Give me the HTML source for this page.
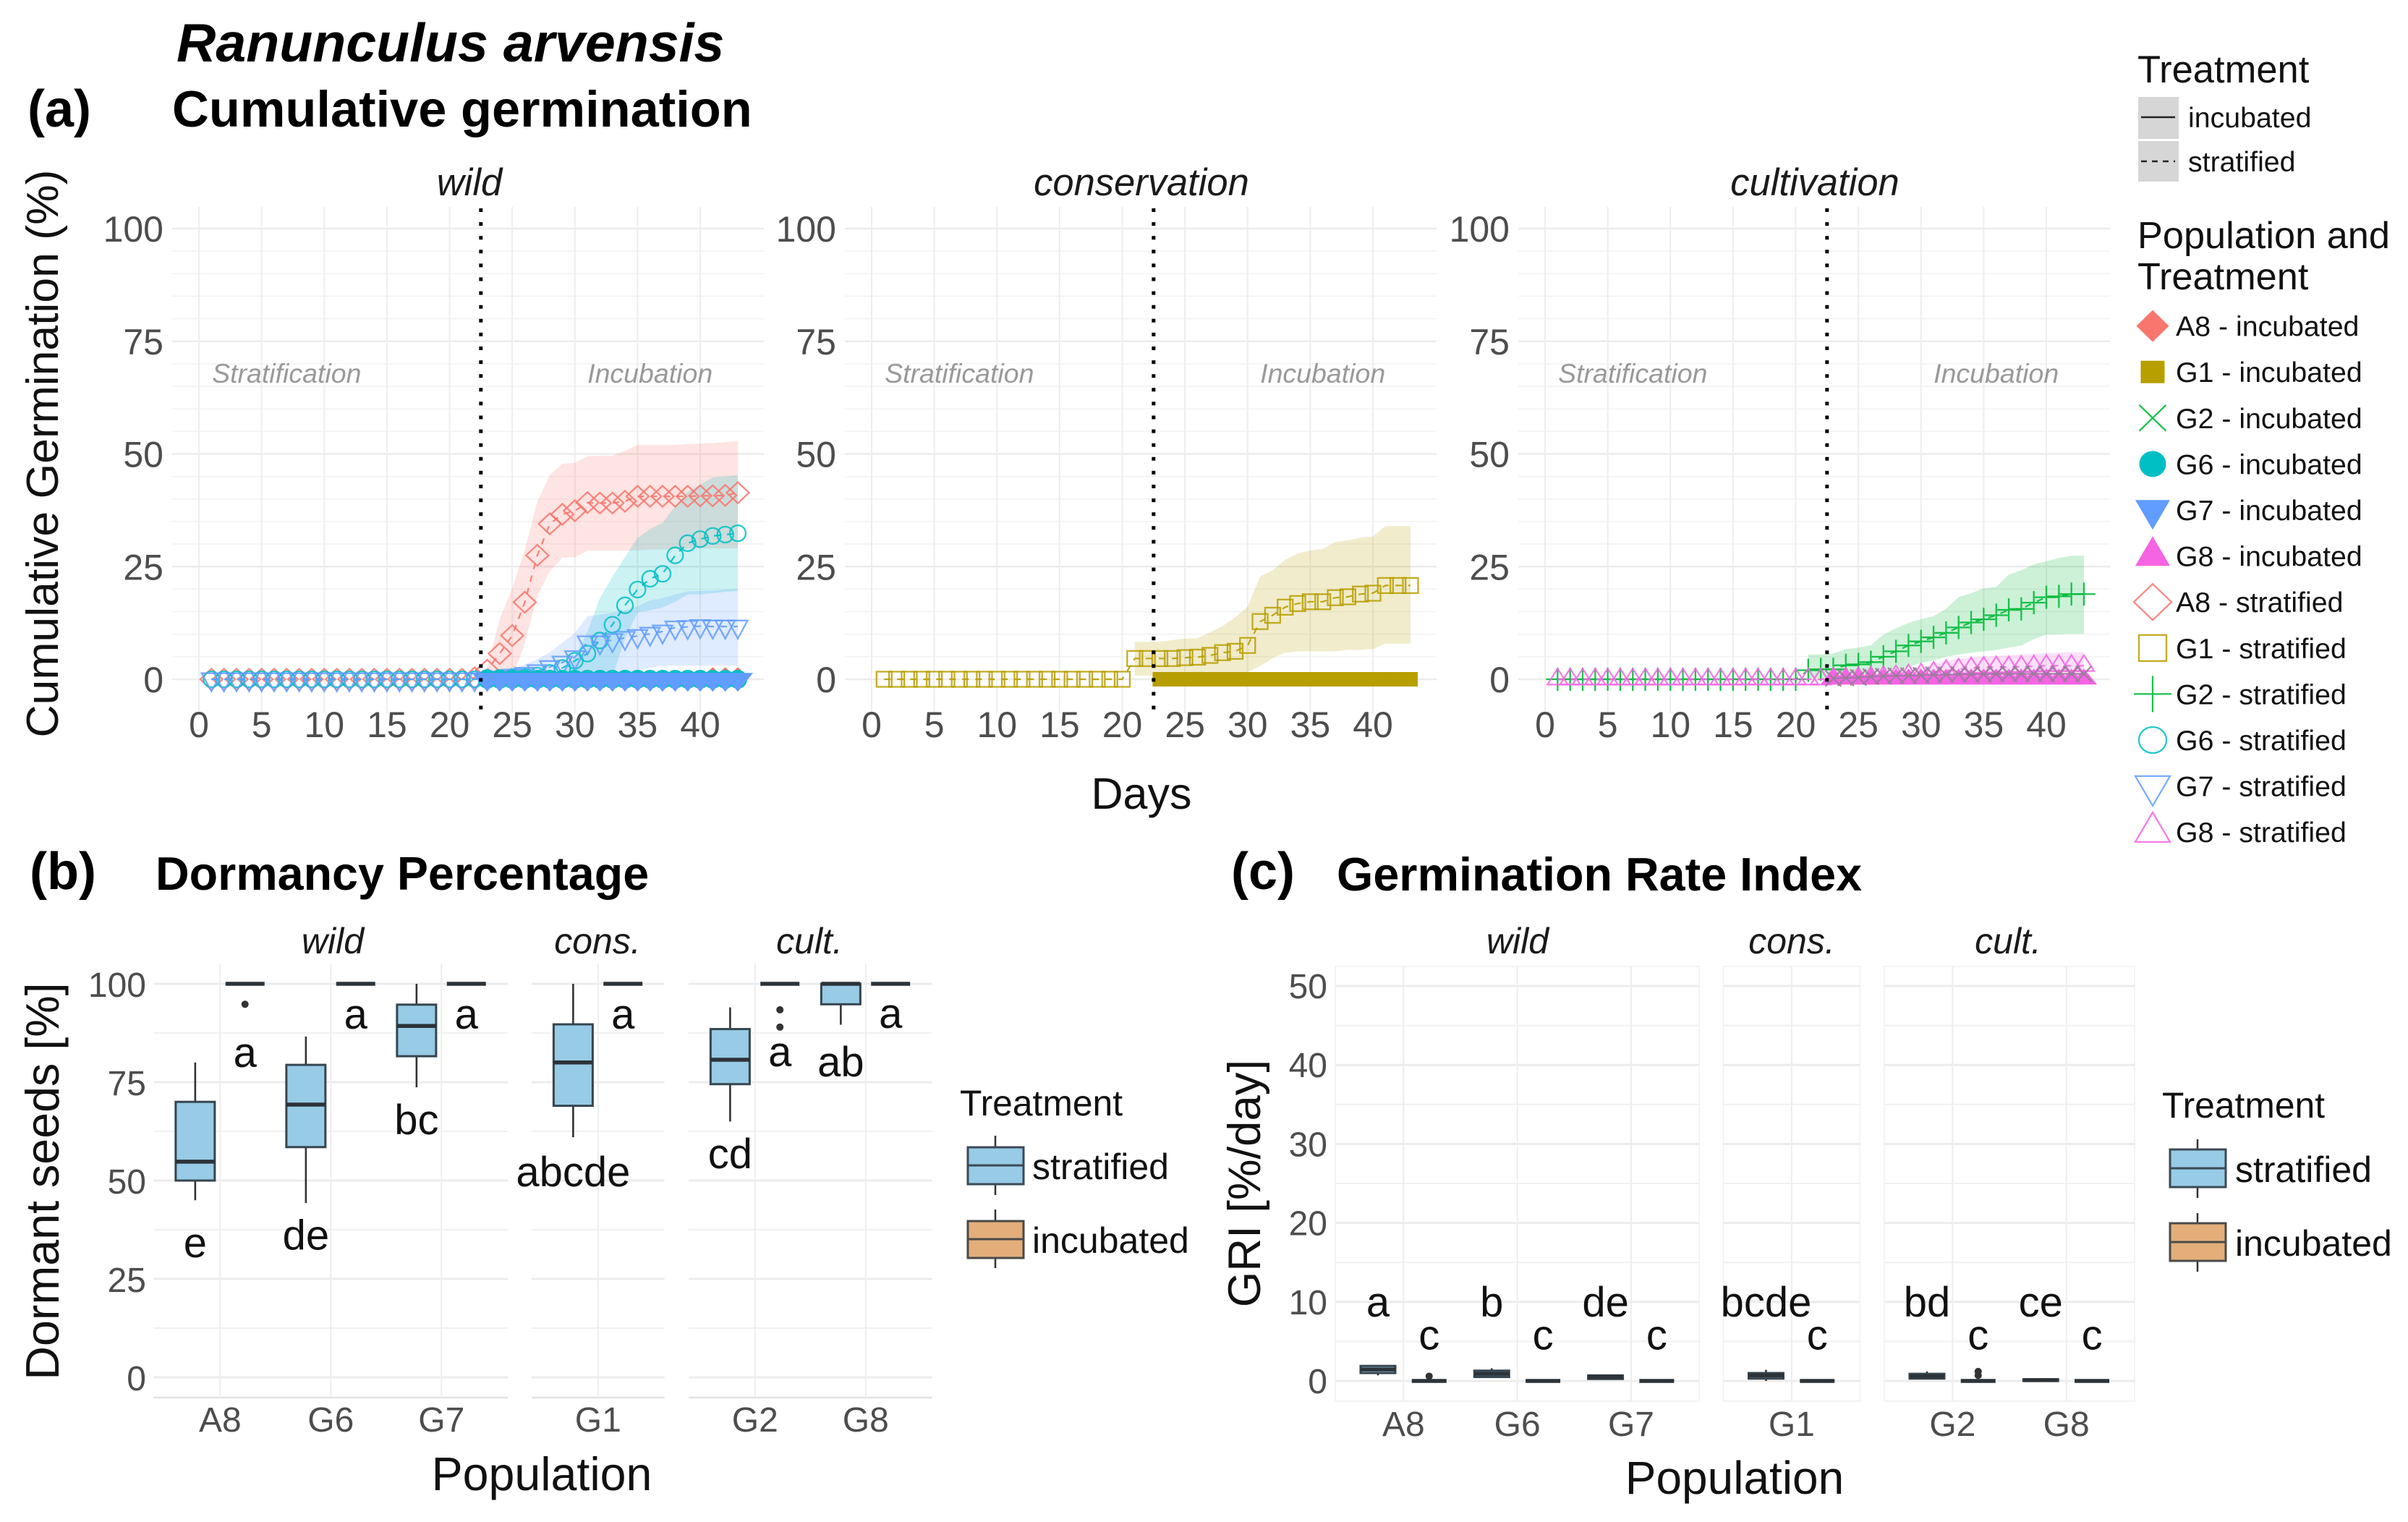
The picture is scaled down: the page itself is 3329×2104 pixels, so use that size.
<!DOCTYPE html>
<html lang="en">
<head>
<meta charset="utf-8">
<title>Ranunculus arvensis germination</title>
<style>
html,body{margin:0;padding:0;background:#fff;}
#figure{display:block;font-family:"Liberation Sans",sans-serif;}
</style>
</head>
<body>
<svg id="figure" xmlns="http://www.w3.org/2000/svg" width="3329" height="2104" viewBox="0 0 3329 2104">
<rect x="0" y="0" width="3329" height="2104" fill="#fff"/>
<text x="244" y="85" font-size="75.3" font-weight="bold" font-style="italic">Ranunculus arvensis</text>
<text x="38" y="175" font-size="72" font-weight="bold">(a)</text>
<text x="238" y="175" font-size="70.4" font-weight="bold">Cumulative germination</text>
<text transform="translate(80 627) rotate(-90)" text-anchor="middle" font-size="62.5" fill="#111">Cumulative Germination (%)</text>
<text x="1578" y="1118" text-anchor="middle" font-size="61" fill="#111">Days</text>
<text x="41" y="1229" font-size="72" font-weight="bold">(b)</text>
<text x="215" y="1230" font-size="64.6" font-weight="bold">Dormancy Percentage</text>
<text transform="translate(81 1633) rotate(-90)" text-anchor="middle" font-size="64.6" fill="#111">Dormant seeds [%]</text>
<text x="749" y="2060" text-anchor="middle" font-size="64.5" fill="#111">Population</text>
<text x="1702" y="1229" font-size="72" font-weight="bold">(c)</text>
<text x="1848" y="1231" font-size="64.7" font-weight="bold">Germination Rate Index</text>
<text transform="translate(1742 1636) rotate(-90)" text-anchor="middle" font-size="63.5" fill="#111">GRI [%/day]</text>
<text x="2398" y="2065" text-anchor="middle" font-size="64" fill="#111">Population</text>

<g>
<text x="2955" y="114" font-size="52.5" fill="#111">Treatment</text>
<rect x="2956" y="134" width="56" height="58" fill="#d6d6d6"/>
<line x1="2960" x2="3007" y1="162" y2="162" stroke="#222" stroke-width="2.5"/>
<rect x="2956" y="195" width="56" height="56" fill="#d6d6d6"/>
<line x1="2960" x2="3007" y1="223" y2="223" stroke="#222" stroke-width="2.5" stroke-dasharray="8 7"/>
<text x="3025" y="176" font-size="39.3" fill="#111">incubated</text>
<text x="3025" y="237" font-size="39.3" fill="#111">stratified</text>
</g>
<text font-size="52.3" fill="#111"><tspan x="2955" y="343">Population and</tspan><tspan x="2955" y="400">Treatment</tspan></text>

<g>
<text x="1327" y="1542" font-size="49.8" fill="#111">Treatment</text>
<line x1="1376" x2="1376" y1="1570" y2="1652" stroke="#333" stroke-width="2.5"/>
<rect x="1338" y="1586" width="77" height="51" fill="#97cbe6" stroke="#3b4a55" stroke-width="3"/>
<line x1="1338" x2="1415" y1="1611" y2="1611" stroke="#3b4a55" stroke-width="3"/>
<line x1="1376" x2="1376" y1="1672" y2="1753" stroke="#333" stroke-width="2.5"/>
<rect x="1338" y="1688" width="77" height="51" fill="#e3ae7a" stroke="#4a4a48" stroke-width="3"/>
<line x1="1338" x2="1415" y1="1713" y2="1713" stroke="#4a4a48" stroke-width="3"/>
<text x="1427" y="1630" font-size="50" fill="#111">stratified</text>
<text x="1427" y="1732" font-size="50" fill="#111">incubated</text>
</g>
<g>
<text x="2989" y="1545" font-size="49.8" fill="#111">Treatment</text>
<line x1="3038" x2="3038" y1="1575" y2="1656" stroke="#333" stroke-width="2.5"/>
<rect x="3000" y="1589" width="77" height="52" fill="#97cbe6" stroke="#3b4a55" stroke-width="3"/>
<line x1="3000" x2="3077" y1="1615" y2="1615" stroke="#3b4a55" stroke-width="3"/>
<line x1="3038" x2="3038" y1="1677" y2="1758" stroke="#333" stroke-width="2.5"/>
<rect x="3000" y="1691" width="77" height="52" fill="#e3ae7a" stroke="#4a4a48" stroke-width="3"/>
<line x1="3000" x2="3077" y1="1717" y2="1717" stroke="#4a4a48" stroke-width="3"/>
<text x="3090" y="1634" font-size="50" fill="#111">stratified</text>
<text x="3090" y="1736" font-size="50" fill="#111">incubated</text>
</g>
</svg>
<script>
/* ---------- panel (a) data ---------- */
const days = [1,2,3,4,5,6,7,8,9,10,11,12,13,14,15,16,17,18,19,20,21,22,23,24,25,26,27,28,29,30,31,32,33,34,35,36,37,38,39,40,41,42,43];
const dayTicks = [0,5,10,15,20,25,30,35,40];
const germTicks = [0,25,50,75,100];
const n = null;
const a8Strat = [0,0,0,0,0,0,0,0,0,0,0,0,0,0,0,0,0,0,0,0,0,0.3,2,5.7,9.7,17.1,27.5,34.5,36.6,37.4,39.2,39.1,39.1,39.5,40.6,40.6,40.6,40.6,40.6,40.7,40.7,40.8,41.4];
const a8Upper = [n,n,n,n,n,n,n,n,n,n,n,n,n,n,n,n,n,n,n,n,n,0,2.6,13.3,20.2,28.7,39.4,45.3,47.8,48,49.5,49.6,49.6,50.7,52,52,52,52,52.2,52.3,52.4,52.6,52.9];
const a8Lower = [n,n,n,n,n,n,n,n,n,n,n,n,n,n,n,n,n,n,n,n,n,0,0,0,0.3,7.9,18.6,24,27,27.1,28.5,28.5,28.5,28.5,28.6,28.8,28.8,28.9,29,29,29,29,29.1];
const g6Strat = [0,0,0,0,0,0,0,0,0,0,0,0,0,0,0,0,0,0,0,0,0,0,0.3,0.3,0.5,0.5,0.8,1.4,2.5,4.1,5.7,8.6,12.1,16.4,19.9,22.3,23.4,27.5,30.2,31.1,31.8,32.1,32.4];
const g6Upper = [n,n,n,n,n,n,n,n,n,n,n,n,n,n,n,n,n,n,n,n,n,n,n,n,n,n,n,0.6,1.4,4.9,10.5,18,22.8,27.1,31.4,33.3,34.7,38.4,41.6,43.2,44.8,45,45.3];
const g6Lower = [n,n,n,n,n,n,n,n,n,n,n,n,n,n,n,n,n,n,n,n,n,n,n,n,n,n,n,0,0,0,0,0,0.5,9,14.8,15.3,15.9,17.2,18.8,18.8,19.1,19.4,19.6];
const g7Strat = [0,0,0,0,0,0,0,0,0,0,0,0,0,0,0,0,0,0,0,0,0,0,0.2,0.4,0.8,1.2,1.8,2.7,3.7,4.9,8.2,8.2,8.7,9.2,9.6,10.1,10.6,11.5,11.6,11.8,11.7,11.7,11.7];
const g7Upper = [n,n,n,n,n,n,n,n,n,n,n,n,n,n,n,n,n,n,n,n,n,n,0.6,1.7,2.2,3.3,4.4,6,8.1,10.3,14,14.3,14.8,15.3,16.2,17.5,18,18.8,19.5,19.6,19.7,19.9,20.1];
const g7Lower = [n,n,n,n,n,n,n,n,n,n,n,n,n,n,n,n,n,n,n,n,n,n,0,0,0,0,0,0,0,0,0,0,0.5,1.4,1.9,2.5,3,3,3,3,3,3,3];
const a8Inc = [n,n,n,n,n,n,n,n,n,n,n,n,n,n,n,n,n,n,n,n,n,n,0,0,0,0,0,0,0,0,0,0,0,0,0,0,0,0,0,0,0.6,0.6,0.6];
const g6Inc = [n,n,n,n,n,n,n,n,n,n,n,n,n,n,n,n,n,n,n,n,n,n,0,0,0,0,0,0,0,0,0,0,0,0,0,0,0,0,0,0,0,0,0];
const g7Inc = [n,n,n,n,n,n,n,n,n,n,n,n,n,n,n,n,n,n,n,n,n,n,0,0,0,0,0,0,0,0,0,0,0,0,0,0,0,0,0,0,0,0,0];
const g1Strat = [0,0,0,0,0,0,0,0,0,0,0,0,0,0,0,0,0,0,0,0,4.6,4.6,4.6,4.6,4.8,4.9,5.3,5.9,6.2,7.5,12.8,14.2,16,16.8,17.2,17.2,18.1,18.3,18.9,19.1,20.8,20.8,20.8];
const g1Upper = [n,n,n,n,n,n,n,n,n,n,n,n,n,n,n,n,n,n,n,n,8.3,8.3,8.3,8.7,9,9.1,10.4,11.8,13.7,16.1,22.8,24.2,26.5,27.9,28.6,28.9,30.5,30.8,31.4,31.7,34,34,34];
const g1Lower = [n,n,n,n,n,n,n,n,n,n,n,n,n,n,n,n,n,n,n,n,0.8,0.8,0.8,0.8,0.8,0.8,0.9,1,1.1,1.6,2.9,4.7,5.9,6.2,6.2,6.2,6.2,6.5,6.5,6.7,7.9,7.9,7.9];
const g1Inc = [n,n,n,n,n,n,n,n,n,n,n,n,n,n,n,n,n,n,n,n,n,n,0,0,0,0,0,0,0,0,0,0,0,0,0,0,0,0,0,0,0,0,0];
const g2Strat = [0,0,0,0,0,0,0,0,0,0,0,0,0,0,0,0,0,0,0,0,2,2.2,2.2,3.1,3.3,3.8,5,6.2,7.5,8.4,9.3,10.3,11.5,12.6,13.3,14.2,15.4,15.6,17,18.2,18.4,18.9,18.9];
const g2Upper = [n,n,n,n,n,n,n,n,n,n,n,n,n,n,n,n,n,n,n,n,5.5,5.5,5.7,6.7,7,7.6,9.9,11.3,12.5,13.3,14,15.6,18.2,19.1,20.2,20.5,23.2,24.2,25.5,26.2,26.9,27.4,27.4];
const g2Lower = [n,n,n,n,n,n,n,n,n,n,n,n,n,n,n,n,n,n,n,n,0.2,0.2,0.3,0.5,0.9,1.3,2,2.3,2.8,3.6,4.2,5,5.5,5.9,6.2,6.5,7,7.5,8.9,9.9,10,10.1,10.1];
const g8Strat = [0,0,0,0,0,0,0,0,0,0,0,0,0,0,0,0,0,0,0,0,0,0,0.2,0.2,0.3,0.4,0.5,0.7,0.9,1.1,1.5,1.9,2.2,2.5,2.6,2.7,2.7,2.8,2.9,3,3,3,3];
const g8Upper = [n,n,n,n,n,n,n,n,n,n,n,n,n,n,n,n,n,n,n,n,n,n,0.4,0.6,0.8,1,1.3,1.6,2,2.6,3.4,4,4.5,4.8,5,5.2,5.3,5.5,5.7,5.8,5.9,6,6];
const g8Lower = [n,n,n,n,n,n,n,n,n,n,n,n,n,n,n,n,n,n,n,n,n,n,0,0,0,0,0,0,0,0,0,0,0,0,0,0,0,0,0,0,0,0,0];
const g2Inc = [n,n,n,n,n,n,n,n,n,n,n,n,n,n,n,n,n,n,n,n,n,n,0.2,0.3,0.4,0.6,0.7,0.8,0.8,0.9,1,1,1.1,1.1,1.1,1.2,1.2,1.2,1.2,1.2,1.2,1.2,1.2];
const g8Inc = [n,n,n,n,n,n,n,n,n,n,n,n,n,n,n,n,n,n,n,n,n,n,0,0,0,0,0,0,0,0,0,0,0,0,0,0,0,0,0,0,0,0,0];

/* ---------- panel (b) data: order A8,G6,G7,G1,G2,G8 ---------- */
const boxCategories = ['A8','G6','G7','G1','G2','G8'];
const dormTicks = [0,25,50,75,100];
const dormStratLow = [45,44.3,73.7,61,65,89.6];
const dormStratQ1 = [50,58.5,81.6,69,74.5,94.8];
const dormStratMedian = [54.8,69.3,89.3,80,80.7,100];
const dormStratQ3 = [70,79.4,94.7,89.7,88.5,100];
const dormStratHigh = [80,86.6,100,100,94,100];
const dormIncLow = [100,100,100,100,100,100];
const dormIncQ1 = [100,100,100,100,100,100];
const dormIncMedian = [100,100,100,100,100,100];
const dormIncQ3 = [100,100,100,100,100,100];
const dormIncHigh = [100,100,100,100,100,100];
const dormOutlierCategory = ['A8','G2','G2'];
const dormOutlierValue = [94.8,93.4,89];
const dormStratLetters = ['e','de','bc','abcde','cd','ab'];
const dormStratLetterAt = [30.5,32.4,61.8,48.5,53.1,76.5];
const dormIncLetters = ['a','a','a','a','a','a'];
const dormIncLetterAt = [78.9,88.6,88.6,88.6,79,88.8];

/* ---------- panel (c) data ---------- */
const griTicks = [0,10,20,30,40,50];
const griStratLow = [0.7,0.4,0.2,0,0.3,0];
const griStratQ1 = [1,0.5,0.25,0.3,0.3,0];
const griStratMedian = [1.45,0.9,0.5,0.7,0.6,0.1];
const griStratQ3 = [1.9,1.3,0.7,1,0.9,0.2];
const griStratHigh = [2,1.6,0.8,1.4,1.2,0.35];
const griIncLow = [0,0,0,0,0,0];
const griIncQ1 = [0,0,0,0,0,0];
const griIncMedian = [0,0,0,0,0,0];
const griIncQ3 = [0,0,0,0,0,0];
const griIncHigh = [0,0,0,0,0,0];
const griOutlierCategory = ['A8','G2','G2'];
const griOutlierValue = [0.6,1.2,0.7];
const griStratLetters = ['a','b','de','bcde','bd','ce'];
const griStratLetterAt = [8.15,8.15,8.15,8.15,8.15,8.15];
const griIncLetters = ['c','c','c','c','c','c'];
const griIncLetterAt = [4,4,4,4,4,4];

/* ---------- legend labels ---------- */
const legendLabels = ['A8 - incubated','G1 - incubated','G2 - incubated','G6 - incubated','G7 - incubated','G8 - incubated','A8 - stratified','G1 - stratified','G2 - stratified','G6 - stratified','G7 - stratified','G8 - stratified'];

const COL = {A8:'#F8766D',G1:'#B79F00',G2:'#00BA38',G6:'#00BFC4',G7:'#619CFF',G8:'#F564E3'};
const SVGNS = 'http://www.w3.org/2000/svg';
const root = document.getElementById('figure');

function el(parent, tag, attrs){
  const e = document.createElementNS(SVGNS, tag);
  for (const k in attrs) e.setAttribute(k, attrs[k]);
  parent.appendChild(e);
  return e;
}
function group(parent, name){
  const g = el(parent, 'g', {});
  
  
  return g;
}
function pts(list){ return list.map(p => p[0].toFixed(1)+','+p[1].toFixed(1)).join(' '); }

function marker(parent, shape, cx, cy, w, h, color, filled){
  const style = filled ? {fill:color, stroke:'none'} : {fill:'none', stroke:color, 'stroke-width':2.3, 'stroke-opacity':0.85};
  let m;
  if (shape === 'diamond'){
    m = el(parent,'polygon',Object.assign({points:pts([[cx-w/2,cy],[cx,cy-h/2],[cx+w/2,cy],[cx,cy+h/2]])},style));
  } else if (shape === 'square'){
    m = el(parent,'rect',Object.assign({x:cx-w/2,y:cy-h/2,width:w,height:h},style));
  } else if (shape === 'circle'){
    m = el(parent,'ellipse',Object.assign({cx:cx,cy:cy,rx:w/2,ry:h/2},style));
  } else if (shape === 'down'){
    m = el(parent,'polygon',Object.assign({points:pts([[cx-w/2,cy-h/3],[cx+w/2,cy-h/3],[cx,cy+h*2/3]])},style));
  } else if (shape === 'up'){
    m = el(parent,'polygon',Object.assign({points:pts([[cx-w/2,cy+h/3],[cx+w/2,cy+h/3],[cx,cy-h*2/3]])},style));
  } else if (shape === 'plus'){
    m = el(parent,'path',{d:'M'+(cx-w/2)+' '+cy+'H'+(cx+w/2)+'M'+cx+' '+(cy-h/2)+'V'+(cy+h/2),fill:'none',stroke:color,'stroke-width':2.3,'stroke-opacity':0.9});
  } else {
    m = el(parent,'path',{d:'M'+(cx-w/2)+' '+(cy-h/2)+'L'+(cx+w/2)+' '+(cy+h/2)+'M'+(cx-w/2)+' '+(cy+h/2)+'L'+(cx+w/2)+' '+(cy-h/2),fill:'none',stroke:color,'stroke-width':2.3,'stroke-opacity':0.9});
  }
  return m;
}

/* ---------- panel (a) drawing ---------- */
const germY = v => 939 - v*6.23;
const MS = {
  diamond:{open:[31,29],fill:[28,26]}, square:{open:[21,21],fill:[20,20]},
  circle:{open:[22,22],fill:[26,26]}, down:{open:[27,25],fill:[42,26]},
  up:{open:[28,22],fill:[36,22]}, plus:{open:[32,32],fill:[32,32]}, cross:{open:[22,22],fill:[22,22]}
};
function ribbon(parent, xf, upper, lower, color, name){
  const top = [], bot = [];
  days.forEach((d,i)=>{
    if (upper[i] !== null){
      top.push([xf(d),germY(upper[i])]);
      bot.unshift([xf(d),germY(lower[i])]);
    }
  });
  const r = el(parent,'polygon',{points:pts(top.concat(bot)),fill:color,'fill-opacity':0.2,stroke:'none'});
  
  
}
function series(parent, xf, values, shape, color, filled, name){
  const g = group(parent, name);
  const line = [];
  days.forEach((d,i)=>{ if (values[i] !== null) line.push([xf(d),germY(values[i])]); });
  const l = el(g,'polyline',{points:pts(line),fill:'none',stroke:color,'stroke-width':2.2,'stroke-opacity':0.9});
  if (!filled) l.setAttribute('stroke-dasharray','9 9');
  
  
  days.forEach((d,i)=>{
    if (values[i] === null) return;
    const s = MS[shape][filled?'fill':'open'];
    const m = marker(g,shape,xf(d),germY(values[i]),s[0],s[1],color,filled);
    
    
  });
}
function germPanel(cfg){
  const left = cfg.x0 - 37;
  const right = cfg.x0 + 781;
  const xf = d => cfg.x0 + d*17.325;
  const g = group(root, 'germination-panel-'+cfg.name);
  const grid = group(g, cfg.name+'-grid');
  for (let v = 0; v <= 100; v += 5){
    const major = v % 25 === 0;
    const h = el(grid,'line',{x1:left,x2:right,y1:germY(v),y2:germY(v),stroke:major?'#ececec':'#f3f3f3','stroke-width':major?2.6:1.6});
    
    
  }
  dayTicks.forEach(t=>{
    const v = el(grid,'line',{x1:xf(t),x2:xf(t),y1:286,y2:986,stroke:'#eeeeee','stroke-width':2});
    
    
  });
  germTicks.forEach(t=>{
    const lab = el(g,'text',{x:cfg.x0-49,y:germY(t)+18,'text-anchor':'end','font-size':50,fill:'#4d4d4d'});
    lab.textContent = t;
    
    
  });
  dayTicks.forEach(t=>{
    const lab = el(g,'text',{x:xf(t),y:1019,'text-anchor':'middle','font-size':50,fill:'#4d4d4d'});
    lab.textContent = t;
    
    
  });
  const strip = el(g,'text',{x:cfg.stripX,y:270,'text-anchor':'middle','font-size':52.5,'font-style':'italic',fill:'#1a1a1a'});
  strip.textContent = cfg.name;
  
  
  const s1 = el(g,'text',{x:xf(7),y:529,'text-anchor':'middle','font-size':37.5,'font-style':'italic',fill:'#999'});
  s1.textContent = 'Stratification';
  
  
  const s2 = el(g,'text',{x:xf(36),y:529,'text-anchor':'middle','font-size':37.5,'font-style':'italic',fill:'#999'});
  s2.textContent = 'Incubation';
  
  
  cfg.ribbons.forEach(r=>ribbon(g,xf,r.u,r.l,r.c,r.name));
  cfg.open.forEach(s=>series(g,xf,s.v,s.s,s.c,false,s.name));
  cfg.filled.forEach(s=>series(g,xf,s.v,s.s,s.c,true,s.name));
  const dot = el(g,'line',{x1:xf(22.5),x2:xf(22.5),y1:288,y2:986,stroke:'#000','stroke-width':5,'stroke-dasharray':'5 14.1'});
  
  
}
germPanel({name:'wild',x0:275,stripX:649,
  ribbons:[{u:a8Upper,l:a8Lower,c:COL.A8,name:'a8-stratified-ribbon'},{u:g6Upper,l:g6Lower,c:COL.G6,name:'g6-stratified-ribbon'},{u:g7Upper,l:g7Lower,c:COL.G7,name:'g7-stratified-ribbon'}],
  open:[{v:a8Strat,s:'diamond',c:COL.A8,name:'a8-stratified'},{v:g6Strat,s:'circle',c:COL.G6,name:'g6-stratified'},{v:g7Strat,s:'down',c:COL.G7,name:'g7-stratified'}],
  filled:[{v:a8Inc,s:'diamond',c:COL.A8,name:'a8-incubated'},{v:g6Inc,s:'circle',c:COL.G6,name:'g6-incubated'},{v:g7Inc,s:'down',c:COL.G7,name:'g7-incubated'}]});
germPanel({name:'conservation',x0:1205,stripX:1578,
  ribbons:[{u:g1Upper,l:g1Lower,c:COL.G1,name:'g1-stratified-ribbon'}],
  open:[{v:g1Strat,s:'square',c:COL.G1,name:'g1-stratified'}],
  filled:[{v:g1Inc,s:'square',c:COL.G1,name:'g1-incubated'}]});
germPanel({name:'cultivation',x0:2136,stripX:2509,
  ribbons:[{u:g2Upper,l:g2Lower,c:COL.G2,name:'g2-stratified-ribbon'},{u:g8Upper,l:g8Lower,c:COL.G8,name:'g8-stratified-ribbon'}],
  open:[{v:g2Strat,s:'plus',c:COL.G2,name:'g2-stratified'},{v:g8Strat,s:'up',c:COL.G8,name:'g8-stratified'}],
  filled:[{v:g8Inc,s:'up',c:COL.G8,name:'g8-incubated'},{v:g2Inc,s:'cross',c:'#9a7a9a',name:'g2-incubated'}]});

/* ---------- population legend ---------- */
const legendGroup = group(root,'population-legend');
const legendShapes = [
  ['diamond',COL.A8,true,45,44],['square',COL.G1,true,33,31],['cross',COL.G2,false,37,36],['circle',COL.G6,true,37,36],['down',COL.G7,true,48,41],['up',COL.G8,true,48,41],
  ['diamond',COL.A8,false,52,50],['square',COL.G1,false,38,36],['plus',COL.G2,false,52,50],['circle',COL.G6,false,38,36],['down',COL.G7,false,48,41],['up',COL.G8,false,48,41]
];
legendLabels.forEach((label,i)=>{
  const y = 450.6 + i*63.6;
  const k = legendShapes[i];
  const m = marker(legendGroup,k[0],2976,y,k[3],k[4],k[1],k[2]);
  
  
  const t = el(legendGroup,'text',{x:3008,y:y+14,'font-size':39.3,fill:'#111'});
  t.textContent = label;
  
  
});

/* ---------- box panels ---------- */
function boxFigure(cfg){
  const yf = cfg.yf;
  const fig = group(root, cfg.name);
  const dodge = 0.225*cfg.unit;
  const boxW = cfg.boxW;
  const catX = {};
  cfg.facets.forEach(f=>{
    const right = f.left + (f.cats.length-1+1.2)*cfg.unit;
    const pg = group(fig, cfg.name+'-facet-'+f.key);
    if (cfg.border){
      const b = el(pg,'rect',{x:f.left,y:cfg.top,width:right-f.left,height:cfg.bottom-cfg.top,fill:'none',stroke:'#f4f4f4','stroke-width':2});
      
      
    }
    for (let v = 0; v <= cfg.max; v += cfg.minor){
      const major = v % cfg.major === 0;
      const h = el(pg,'line',{x1:f.left,x2:right,y1:yf(v),y2:yf(v),stroke:major?'#ececec':'#f1f1f1','stroke-width':major?3:2});
      
      
    }
    const base = el(pg,'line',{x1:f.left,x2:right,y1:cfg.bottom,y2:cfg.bottom,stroke:cfg.border?'#f4f4f4':'#e2e2e2','stroke-width':2.5});
    
    
    f.cats.forEach((c,i)=>{
      const x = f.left + (i+0.6)*cfg.unit;
      catX[c] = x;
      const v = el(pg,'line',{x1:x,x2:x,y1:cfg.top,y2:cfg.bottom,stroke:'#eeeeee','stroke-width':2});
      
      
      const lab = el(pg,'text',{x:x,y:cfg.catLabelY,'text-anchor':'middle','font-size':48,fill:'#4d4d4d'});
      lab.textContent = c;
      
      
    });
    const strip = el(pg,'text',{x:f.stripX,y:cfg.stripY,'text-anchor':'middle','font-size':50,'font-style':'italic',fill:'#1a1a1a'});
    strip.textContent = f.title;
    
    
  });
  cfg.ticks.forEach(t=>{
    const lab = el(fig,'text',{x:cfg.tickRight,y:yf(t)+cfg.tickDy,'text-anchor':'end','font-size':48,fill:'#4d4d4d'});
    lab.textContent = t;
    
    
  });
  function drawBox(cat,i,t,off,fill){
    const x = catX[cat] + off;
    const g = group(fig, 'box-'+cat+'-'+t.label);
    const w = el(g,'line',{x1:x,x2:x,y1:yf(t.high[i]),y2:yf(t.low[i]),stroke:'#333','stroke-width':2.6});
    
    
    const r = el(g,'rect',{x:x-boxW/2,y:yf(t.q3[i]),width:boxW,height:Math.max(0,yf(t.q1[i])-yf(t.q3[i])),fill:fill,stroke:'#36454f','stroke-width':3});
    
    
    const m = el(g,'line',{x1:x-boxW/2,x2:x+boxW/2,y1:yf(t.median[i]),y2:yf(t.median[i]),stroke:'#2c3338','stroke-width':5.5});
    
    
    const lab = el(fig,'text',{x:x,y:yf(t.letterAt[i]),'text-anchor':'middle','font-size':58,fill:'#111'});
    lab.textContent = t.letters[i];
    
    
  }
  boxCategories.forEach((c,i)=>{
    drawBox(c,i,cfg.inc,dodge,'#e3ae7a');
    drawBox(c,i,cfg.strat,-dodge,'#97cbe6');
  });
  cfg.outCat.forEach((c,i)=>{
    const o = el(fig,'circle',{cx:catX[c]+dodge,cy:yf(cfg.outVal[i]),r:5,fill:'#333'});
    
    
  });
}
boxFigure({name:'dormancy-chart',unit:153,boxW:54,max:100,minor:12.5,major:25,ticks:dormTicks,border:false,tickDy:18,
  yf:v=>1904-v*5.44,top:1332,bottom:1932,catLabelY:1979,stripY:1318,tickRight:202,
  facets:[{key:'wild',title:'wild',left:212.5,stripX:460,cats:['A8','G6','G7']},{key:'cons',title:'cons.',left:735,stripX:826,cats:['G1']},{key:'cult',title:'cult.',left:952,stripX:1119,cats:['G2','G8']}],
  strat:{label:'stratified',low:dormStratLow,q1:dormStratQ1,median:dormStratMedian,q3:dormStratQ3,high:dormStratHigh,letters:dormStratLetters,letterAt:dormStratLetterAt},
  inc:{label:'incubated',low:dormIncLow,q1:dormIncQ1,median:dormIncMedian,q3:dormIncQ3,high:dormIncHigh,letters:dormIncLetters,letterAt:dormIncLetterAt},
  outCat:dormOutlierCategory,outVal:dormOutlierValue});
boxFigure({name:'gri-chart',unit:157.3,boxW:48,max:50,minor:5,major:10,ticks:griTicks,border:true,tickDy:17,
  yf:v=>1909-v*10.92,top:1336,bottom:1937,catLabelY:1985,stripY:1318,tickRight:1835,
  facets:[{key:'wild',title:'wild',left:1846,stripX:2098,cats:['A8','G6','G7']},{key:'cons',title:'cons.',left:2382.5,stripX:2477,cats:['G1']},{key:'cult',title:'cult.',left:2605,stripX:2776,cats:['G2','G8']}],
  strat:{label:'stratified',low:griStratLow,q1:griStratQ1,median:griStratMedian,q3:griStratQ3,high:griStratHigh,letters:griStratLetters,letterAt:griStratLetterAt},
  inc:{label:'incubated',low:griIncLow,q1:griIncQ1,median:griIncMedian,q3:griIncQ3,high:griIncHigh,letters:griIncLetters,letterAt:griIncLetterAt},
  outCat:griOutlierCategory,outVal:griOutlierValue});
</script>
</body>
</html>
